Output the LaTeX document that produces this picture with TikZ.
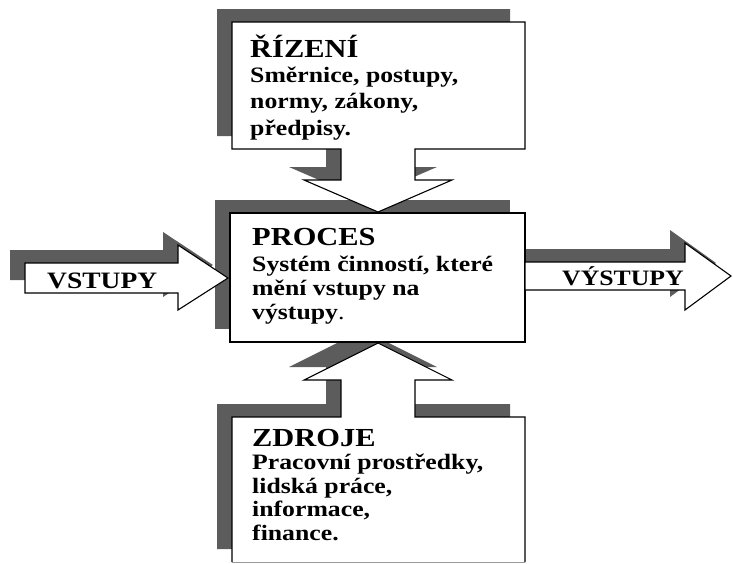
\documentclass[tikz,border=0pt]{standalone}
\usepackage{fontspec}
\setmainfont[FakeStretch=1.17]{Liberation Serif}
\begin{document}
\begin{tikzpicture}[x=1pt,y=-1pt,
  shadowfill/.style={fill=black!64, draw=none},
  panel/.style={fill=white, draw=black, line width=1.1pt, line join=miter},
  edge/.style={draw=black, line width=1.1pt, line join=miter},
  faintedge/.style={draw=black!40, line width=0.8pt},
  head/.style={anchor=base west, inner sep=0pt,
    font=\bfseries\fontsize{26}{26}\selectfont},
  body/.style={anchor=base west, inner sep=0pt,
    font=\bfseries\fontsize{22}{24}\selectfont},
  flowlabel/.style={anchor=base west, inner sep=0pt}]
\useasboundingbox (0,0) rectangle (733,563);

% outlines of the five shapes (box + attached block arrow where present)
\def\rizeniOutline{(232,22) -- (525,22) -- (525,149) -- (415,149) -- (415,180)
  -- (452,180) -- (378,212) -- (304,180) -- (341,180) -- (341,149) -- (232,149) -- cycle}
\def\procesOutline{(230,213) -- (525,213) -- (525,342) -- (230,342) -- cycle}
\def\zdrojeOpen{(232,562) -- (232,417) -- (341,417) -- (341,380) -- (304,380)
  -- (378,343) -- (452,380) -- (415,380) -- (415,417) -- (525,417) -- (525,562)}
\def\zdrojeOutline{\zdrojeOpen -- cycle}
\def\vstupyOutline{(25,263) -- (178,263) -- (178,245) -- (228,278) -- (178,310)
  -- (178,293) -- (25,293) -- cycle}
\def\vystupyOutline{(525,262) -- (685,262) -- (685,243) -- (731,276) -- (685,310)
  -- (685,290) -- (525,290) -- cycle}

% drop shadows, offset up and to the left
\begin{scope}[shift={(-15,-13)}]
  \fill[shadowfill] \rizeniOutline;
  \fill[shadowfill] \procesOutline;
  \fill[shadowfill] \zdrojeOutline;
  \fill[shadowfill] \vstupyOutline;
  \fill[shadowfill] \vystupyOutline;
\end{scope}

% white panels
\filldraw[panel] \rizeniOutline;
\fill[white] \zdrojeOutline;
\draw[edge] \zdrojeOpen;
\draw[faintedge] (232,562) -- (525,562);
\filldraw[panel] \procesOutline;
\filldraw[panel] \vstupyOutline;
\filldraw[panel] \vystupyOutline;

% control
\node[head] (rizH) at (250,57) {ŘÍZENÍ};
\node[body] (riz1) at (250,82) {Směrnice, postupy,};
\node[body] (riz2) at (250,108) {normy, zákony,};
\node[body] (riz3) at (250,135) {předpisy.};

% process
\node[head] (procH) at (252,245) {PROCES};
\node[body] (proc1) at (252,271) {Systém činností, které};
\node[body] (proc2) at (252,295) {mění vstupy na};
\node[body] (proc3) at (252,319) {výstupy{\mdseries .}};

% resources
\node[head] (zdrH) at (252,446) {ZDROJE};
\node[body] (zdr1) at (252,469) {Pracovní prostředky,};
\node[body] (zdr2) at (252,493) {lidská práce,};
\node[body] (zdr3) at (252,516) {informace,};
\node[body] (zdr4) at (252,540) {finance.};

% inputs and outputs
\node[flowlabel, font=\bfseries\fontsize{23.5}{24}\selectfont] (inLbl) at (47,288) {VSTUPY};
\node[flowlabel, font=\bfseries\fontsize{22}{22}\selectfont] (outLbl) at (562,285) {VÝSTUPY};
\end{tikzpicture}
\end{document}
